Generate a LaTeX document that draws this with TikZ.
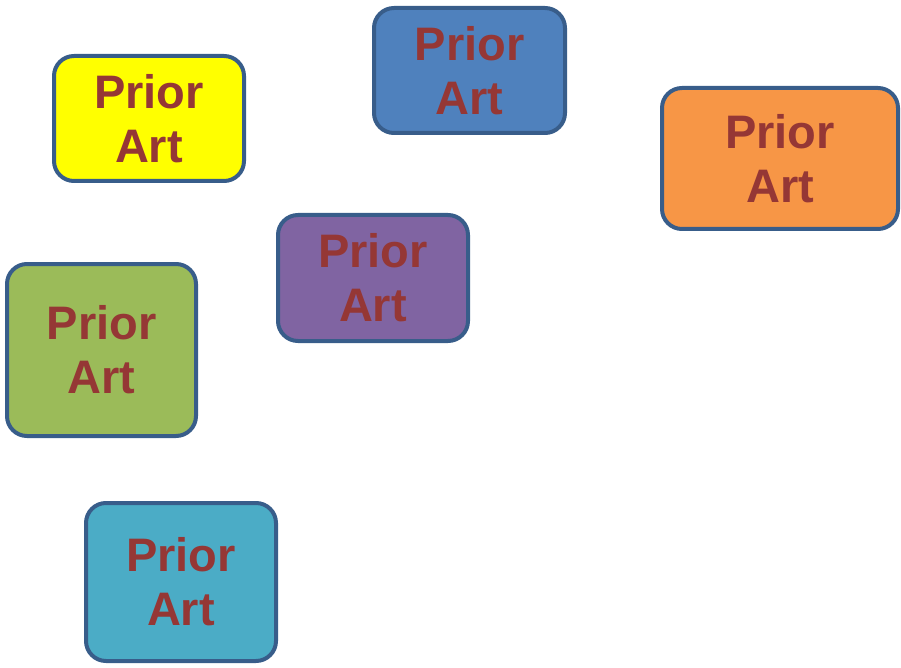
\documentclass[tikz,border=0pt]{standalone}
\usepackage{fontspec}
\setmainfont{Liberation Sans}
\definecolor{bordc}{HTML}{385D8A}
\definecolor{txtc}{HTML}{953735}
\definecolor{cyel}{HTML}{FFFF00}
\definecolor{cblu}{HTML}{4F81BD}
\definecolor{cora}{HTML}{F79646}
\definecolor{cpur}{HTML}{8064A2}
\definecolor{cgrn}{HTML}{9BBB59}
\definecolor{ctea}{HTML}{4BACC6}
\tikzset{
  pbox/.style={draw=bordc, line width=4pt, rounded corners=20pt, inner sep=0pt,
    align=center, text=txtc, font=\fontsize{47}{54}\selectfont\bfseries},
}
\begin{document}
\begin{tikzpicture}[x=1pt,y=-1pt]
\useasboundingbox (0,0) rectangle (901,668);
\node[pbox, fill=cyel, minimum width=190pt, minimum height=125pt] (yellow) at (149,118.5) {Prior\\Art};
\node[pbox, fill=cblu, minimum width=191pt, minimum height=125pt] (blue) at (469.5,70.5) {Prior\\Art};
\node[pbox, fill=cora, minimum width=236pt, minimum height=141pt] (orange) at (780,158.5) {Prior\\Art};
\node[pbox, fill=cpur, minimum width=190pt, minimum height=126pt] (purple) at (373,278) {Prior\\Art};
\node[pbox, fill=cgrn, minimum width=189pt, minimum height=172pt] (green) at (101.5,350) {Prior\\Art};
\node[pbox, fill=ctea, minimum width=190pt, minimum height=158pt] (teal) at (181,582) {Prior\\Art};
\end{tikzpicture}
\end{document}
